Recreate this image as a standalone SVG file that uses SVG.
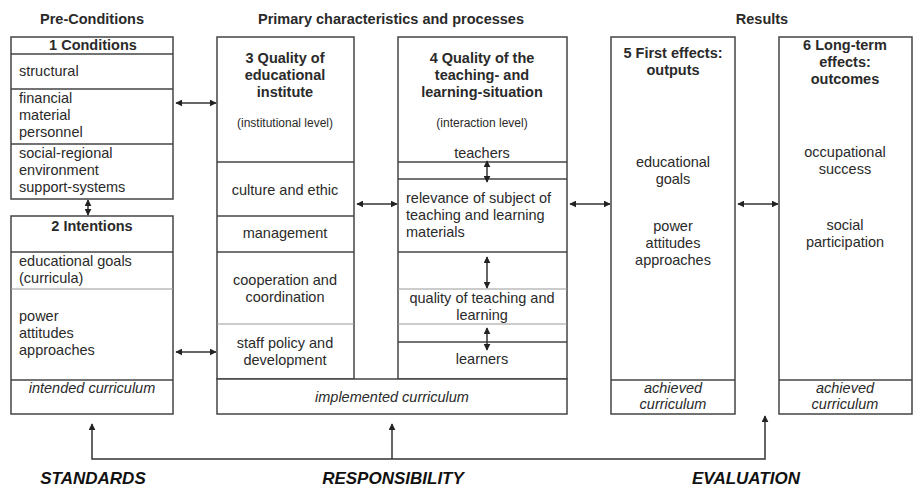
<svg xmlns="http://www.w3.org/2000/svg" width="914" height="487" viewBox="0 0 914 487">
<defs>
<marker id="ah" viewBox="0 0 10 10" refX="9" refY="5" markerWidth="7" markerHeight="7" markerUnits="userSpaceOnUse" orient="auto-start-reverse"><path d="M0,0 L10,5 L0,10 z" fill="#222"/></marker>
<style>
.box{fill:#fff;stroke:#444;stroke-width:1.5}
.ln{stroke:#444;stroke-width:1.5;fill:none}
.lt{stroke:#999;stroke-width:1.2;fill:none}
.t{font-family:"Liberation Sans",Arial,sans-serif;font-size:14.5px;fill:#2a2a2a}
.b{font-weight:bold}
.c{text-anchor:middle}
.i{font-style:italic}
.s{font-size:12px}
.big{font-family:"Liberation Sans",Arial,sans-serif;font-size:17px;font-weight:bold;font-style:italic;fill:#111;text-anchor:middle}
.con{stroke:#333;stroke-width:1.5;fill:none}
</style>
</defs>
<rect width="914" height="487" fill="#fff"/>

<g id="headers">
<text class="t b c" x="92" y="24">Pre-Conditions</text>
<text class="t b c" x="391" y="24">Primary characteristics and processes</text>
<text class="t b c" x="762" y="24">Results</text>
</g>

<g id="n1">
<rect class="box" x="11" y="37" width="162" height="162"/>
<line class="ln" x1="11" y1="54" x2="173" y2="54"/>
<line class="ln" x1="11" y1="89" x2="173" y2="89"/>
<line class="ln" x1="11" y1="144" x2="173" y2="144"/>
<text class="t b c" x="93" y="50">1 Conditions</text>
<text class="t" x="19" y="76">structural</text>
<text class="t" x="19" y="103">financial</text>
<text class="t" x="19" y="120">material</text>
<text class="t" x="19" y="137">personnel</text>
<text class="t" x="19" y="158">social-regional</text>
<text class="t" x="19" y="175">environment</text>
<text class="t" x="19" y="192">support-systems</text>
</g>

<g id="n2">
<rect class="box" x="11" y="216" width="162" height="198"/>
<line class="ln" x1="11" y1="252" x2="173" y2="252"/>
<line class="lt" x1="11" y1="289" x2="173" y2="289"/>
<line class="ln" x1="11" y1="380" x2="173" y2="380"/>
<text class="t b c" x="92" y="231">2 Intentions</text>
<text class="t" x="19" y="266">educational goals</text>
<text class="t" x="19" y="283">(curricula)</text>
<text class="t" x="19" y="321">power</text>
<text class="t" x="19" y="338">attitudes</text>
<text class="t" x="19" y="355">approaches</text>
<text class="t i c" x="92" y="393">intended curriculum</text>
</g>

<g id="n3">
<rect class="box" x="217" y="37" width="137" height="342"/>
<line class="ln" x1="217" y1="162" x2="354" y2="162"/>
<line class="ln" x1="217" y1="216" x2="354" y2="216"/>
<line class="ln" x1="217" y1="252" x2="354" y2="252"/>
<line class="lt" x1="217" y1="324" x2="354" y2="324"/>
<text class="t b c" x="285" y="63">3 Quality of</text>
<text class="t b c" x="285" y="80">educational</text>
<text class="t b c" x="285" y="97">institute</text>
<text class="t s c" x="285" y="127">(institutional level)</text>
<text class="t c" x="285" y="195">culture and ethic</text>
<text class="t c" x="285" y="238">management</text>
<text class="t c" x="285" y="285">cooperation and</text>
<text class="t c" x="285" y="302">coordination</text>
<text class="t c" x="285" y="348">staff policy and</text>
<text class="t c" x="285" y="365">development</text>
</g>

<g id="n4">
<rect class="box" x="398" y="37" width="169" height="342"/>
<line class="ln" x1="398" y1="162" x2="567" y2="162"/>
<line class="ln" x1="398" y1="179" x2="567" y2="179"/>
<line class="ln" x1="398" y1="252" x2="567" y2="252"/>
<line class="lt" x1="398" y1="289" x2="567" y2="289"/>
<line class="lt" x1="398" y1="324" x2="567" y2="324"/>
<line class="ln" x1="398" y1="342" x2="567" y2="342"/>
<text class="t b c" x="482" y="63">4 Quality of the</text>
<text class="t b c" x="482" y="80">teaching- and</text>
<text class="t b c" x="482" y="97">learning-situation</text>
<text class="t s c" x="482" y="127">(interaction level)</text>
<text class="t c" x="482" y="158">teachers</text>
<text class="t" x="406" y="203">relevance of subject of</text>
<text class="t" x="406" y="220">teaching and learning</text>
<text class="t" x="406" y="237">materials</text>
<text class="t c" x="482" y="303">quality of teaching and</text>
<text class="t c" x="482" y="320">learning</text>
<text class="t c" x="482" y="364">learners</text>
</g>

<g id="implemented">
<rect class="box" x="217" y="379" width="350" height="35"/>
<text class="t i c" x="392" y="402">implemented curriculum</text>
</g>

<g id="n5">
<rect class="box" x="611" y="37" width="124" height="377"/>
<line class="ln" x1="611" y1="380" x2="735" y2="380"/>
<text class="t b c" x="673" y="58">5 First effects:</text>
<text class="t b c" x="673" y="75">outputs</text>
<text class="t c" x="673" y="167">educational</text>
<text class="t c" x="673" y="184">goals</text>
<text class="t c" x="673" y="231">power</text>
<text class="t c" x="673" y="248">attitudes</text>
<text class="t c" x="673" y="265">approaches</text>
<text class="t i c" x="673" y="393">achieved</text>
<text class="t i c" x="673" y="409">curriculum</text>
</g>

<g id="n6">
<rect class="box" x="779" y="37" width="133" height="377"/>
<line class="ln" x1="779" y1="380" x2="912" y2="380"/>
<text class="t b c" x="845" y="50">6 Long-term</text>
<text class="t b c" x="845" y="67">effects:</text>
<text class="t b c" x="845" y="84">outcomes</text>
<text class="t c" x="845" y="157">occupational</text>
<text class="t c" x="845" y="174">success</text>
<text class="t c" x="845" y="230">social</text>
<text class="t c" x="845" y="247">participation</text>
<text class="t i c" x="845" y="393">achieved</text>
<text class="t i c" x="845" y="409">curriculum</text>
</g>

<g id="connectors">
<line class="con" x1="88" y1="200" x2="88" y2="215" marker-start="url(#ah)" marker-end="url(#ah)"/>
<line class="con" x1="176" y1="103" x2="216" y2="103" marker-start="url(#ah)" marker-end="url(#ah)"/>
<line class="con" x1="176" y1="352" x2="216" y2="352" marker-start="url(#ah)" marker-end="url(#ah)"/>
<line class="con" x1="357" y1="204" x2="397" y2="204" marker-start="url(#ah)" marker-end="url(#ah)"/>
<line class="con" x1="570" y1="204" x2="610" y2="204" marker-start="url(#ah)" marker-end="url(#ah)"/>
<line class="con" x1="738" y1="204" x2="778" y2="204" marker-start="url(#ah)" marker-end="url(#ah)"/>
<line class="con" x1="487" y1="161" x2="487" y2="182" marker-start="url(#ah)" marker-end="url(#ah)"/>
<line class="con" x1="487" y1="257" x2="487" y2="288" marker-start="url(#ah)" marker-end="url(#ah)"/>
<line class="con" x1="487" y1="328" x2="487" y2="350" marker-start="url(#ah)" marker-end="url(#ah)"/>
<polyline class="con" points="92,424 92,459 765,459 765,416" marker-end="url(#ah)" marker-start="url(#ah)"/>
<line class="con" x1="392" y1="459" x2="392" y2="424" marker-end="url(#ah)"/>
</g>

<g id="labels">
<text class="big" x="93" y="484">STANDARDS</text>
<text class="big" x="393" y="484">RESPONSIBILITY</text>
<text class="big" x="746" y="484">EVALUATION</text>
</g>
</svg>
